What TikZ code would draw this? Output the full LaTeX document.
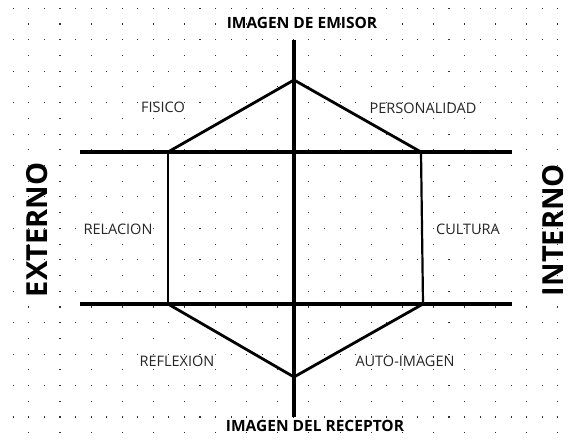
\documentclass[tikz,border=0pt]{standalone}
\usepackage{fontspec}
\setmainfont{Open Sans}
\begin{document}
\begin{tikzpicture}[x=1pt,y=-1pt,
  axis/.style={line width=3.6pt},
  hexline/.style={line width=2.8pt, line join=miter},
  hexside/.style={line width=2.2pt},
  lbl/.style={font=\fontsize{14.5}{14.5}\selectfont, inner sep=0pt, text=black!85},
  title/.style={font=\fontsize{15.5}{15.5}\selectfont\bfseries, inner sep=0pt},
  side/.style={font=\fontsize{29}{29}\selectfont\bfseries, inner sep=0pt, rotate=90,
    text height=21pt, text depth=0pt},
  griddot/.style={fill=black!80, draw=none}]
\useasboundingbox (0,0) rectangle (569,446);
\fill[white] (0,0) rectangle (569,446);
% dot grid
\foreach \r in {0,...,27}{
  \pgfmathsetmacro{\yy}{8.3+15.72*\r}
  \pgfmathtruncatemacro{\rowpar}{mod(\r,2)}
  \foreach \c in {0,...,35}{
    \pgfmathtruncatemacro{\colpar}{mod(\c,2)}
    \pgfmathsetmacro{\xx}{13.3+15.56*\c}
    \ifnum\rowpar=0
      \fill[griddot] (\xx-0.55,\yy-0.55) rectangle (\xx+0.55,\yy+0.55);
    \else
      \ifnum\colpar=1
        \fill[griddot] (\xx-0.55,\yy-0.55) rectangle (\xx+0.55,\yy+0.55);
      \fi
    \fi
  }
}
% coordinates
\coordinate (vtop) at (294,40);
\coordinate (vbot) at (294,417);
\coordinate (htl) at (80,152);
\coordinate (htr) at (512,152);
\coordinate (hbl) at (80,304);
\coordinate (hbr) at (512,304);
\coordinate (t) at (294,80);
\coordinate (ul) at (168,152);
\coordinate (ur) at (421,152);
\coordinate (ll) at (168,304);
\coordinate (lr) at (423,304);
\coordinate (b) at (294,377);
% axes
\draw[axis] (vtop) -- (vbot);
\draw[axis] (htl) -- (htr);
\draw[axis] (hbl) -- (hbr);
% hexagon
\draw[hexline] (ul) -- (t) -- (ur);
\draw[hexline] (ll) -- (b) -- (lr);
\draw[hexside] (ul) -- (ll);
\draw[hexside] (ur) -- (lr);
% labels
\node[title] (emisor) at (302,23) {IMAGEN DE EMISOR};
\node[title] (receptor) at (315,426) {IMAGEN DEL RECEPTOR};
\node[lbl] (fisico) at (163,107) {FISICO};
\node[lbl] (personalidad) at (423,108) {PERSONALIDAD};
\node[lbl] (relacion) at (118,229) {RELACION};
\node[lbl] (cultura) at (468,229) {CULTURA};
\node[lbl] (reflexion) at (177,361) {REFLEXION};
\node[lbl] (autoimagen) at (405,361) {AUTO-IMAGEN};
\node[side] (externo) at (37,230) {EXTERNO};
\node[side] (interno) at (553,230) {INTERNO};
\end{tikzpicture}
\end{document}
